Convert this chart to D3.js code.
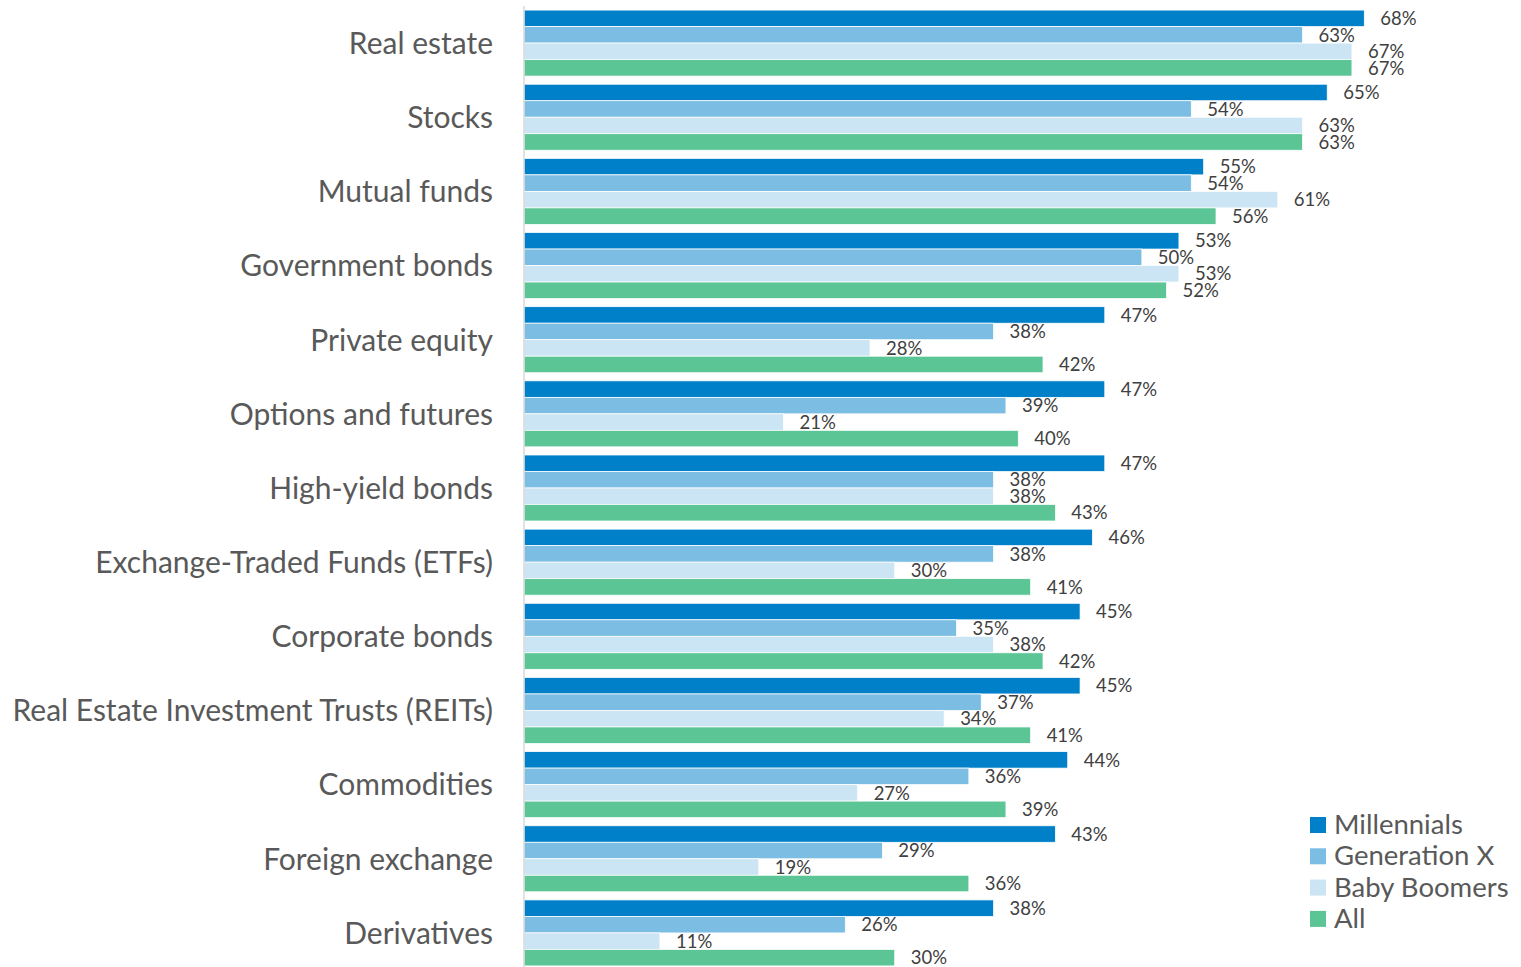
<!DOCTYPE html>
<html>
<head>
<meta charset="utf-8">
<script src="https://cdn.jsdelivr.net/npm/d3@7"></script>
<style>
  html, body { margin: 0; padding: 0; background: #ffffff; }
  svg { display: block; }
</style>
</head>
<body>
<svg id="chart" width="1521" height="967"></svg>
<script>
// Asset classes, top to bottom
const categories = [
  "Real estate", "Stocks", "Mutual funds", "Government bonds", "Private equity",
  "Options and futures", "High-yield bonds", "Exchange-Traded Funds (ETFs)",
  "Corporate bonds", "Real Estate Investment Trusts (REITs)", "Commodities",
  "Foreign exchange", "Derivatives"
];

const seriesNames = ["Millennials", "Generation X", "Baby Boomers", "All"];

// Percent of each generation, one value per category
const millennials = [68, 65, 55, 53, 47, 47, 47, 46, 45, 45, 44, 43, 38];
const generationX = [63, 54, 54, 50, 38, 39, 38, 38, 35, 37, 36, 29, 26];
const babyBoomers = [67, 63, 61, 53, 28, 21, 38, 30, 38, 34, 27, 19, 11];
const allInvestors = [67, 63, 56, 52, 42, 40, 43, 41, 42, 41, 39, 36, 30];

const seriesColors = ["#0080C8", "#7BBDE3", "#CBE5F4", "#5CC596"];

const seriesValues = [millennials, generationX, babyBoomers, allInvestors];

const rows = categories.map((c, i) => ({
  category: c,
  values: seriesNames.map((s, k) => ({ series: s, value: seriesValues[k][i], color: seriesColors[k] }))
}));

const svg = d3.select("#chart");
const FONT = "Lato, 'Open Sans', sans-serif";

const x = d3.scaleLinear().domain([0, 70]).range([524, 1389]);

const y = d3.scaleBand()
  .domain(categories)
  .range([6, 970])
  .paddingInner(0.11)
  .paddingOuter(0.055);

const ySub = d3.scaleBand()
  .domain(seriesNames)
  .range([0, y.bandwidth()]);

// Bars and value labels
const groups = svg.append("g").selectAll("g")
  .data(rows)
  .join("g")
  .attr("transform", d => `translate(0,${y(d.category)})`);

groups.selectAll("rect")
  .data(d => d.values)
  .join("rect")
  .attr("x", x(0))
  .attr("y", d => ySub(d.series))
  .attr("width", d => x(d.value) - x(0))
  .attr("height", ySub.bandwidth())
  .attr("fill", d => d.color)
  .attr("stroke", "#ffffff")
  .attr("stroke-width", 0.75);

groups.selectAll("text")
  .data(d => d.values)
  .join("text")
  .attr("x", d => x(d.value) + 16)
  .attr("y", d => ySub(d.series) + ySub.bandwidth() / 2 + 2)
  .attr("dominant-baseline", "middle")
  .attr("font-family", FONT)
  .attr("font-size", 18.5)
  .attr("fill", "#404040")
  .text(d => d.value + "%");

// Category axis
const yAxis = svg.append("g")
  .attr("transform", `translate(${x(0)},0)`)
  .call(d3.axisLeft(y).tickSize(0).tickPadding(31));

yAxis.select(".domain")
  .attr("stroke", "#D9D9D9")
  .attr("stroke-width", 1.5)
  .attr("d", "M0,6V967");

yAxis.selectAll("text")
  .attr("font-family", FONT)
  .attr("font-size", 30)
  .attr("dy", "0.36em")
  .attr("fill", "#595959");

// Legend
const legend = svg.append("g")
  .attr("transform", "translate(1310,817)")
  .selectAll("g")
  .data(seriesNames)
  .join("g")
  .attr("transform", (d, i) => `translate(0,${i * 31.3})`);

legend.append("rect")
  .attr("width", 16)
  .attr("height", 16)
  .attr("fill", (d, i) => seriesColors[i]);

legend.append("text")
  .attr("x", 24)
  .attr("y", 10)
  .attr("dominant-baseline", "middle")
  .attr("font-family", FONT)
  .attr("font-size", 27.5)
  .attr("fill", "#595959")
  .text(d => d);
</script>
</body>
</html>
